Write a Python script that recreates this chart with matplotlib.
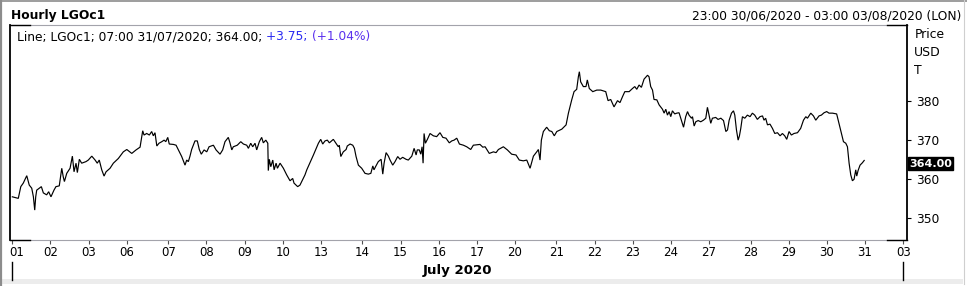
import numpy as np
import matplotlib
matplotlib.use('Agg')
import matplotlib.pyplot as plt
import matplotlib.transforms as mtransforms
from matplotlib.lines import Line2D
from matplotlib.patches import Rectangle

plt.rcParams['font.family'] = ['DejaVu Sans']

# ---------------- data ----------------
title = 'Hourly LGOc1'
range_text = '23:00 30/06/2020 - 03:00 03/08/2020 (LON)'
legend_black = 'Line; LGOc1; 07:00 31/07/2020; 364.00; '
legend_change = '+3.75; '
legend_pct = '(+1.04%)'
unit_labels = ['Price', 'USD', 'T']
month_label = 'July 2020'
last_close = 364.00
y_ticks = [350, 360, 370, 380]

day_labels = ['01', '02', '03', '06', '07', '08', '09', '10', '13', '14', '15', '16',
              '17', '20', '21', '22', '23', '24', '27', '28', '29', '30', '31', '03']
# trading hours in each session (Monday sessions are longer)
session_hours = [23, 23, 23, 25, 23, 23, 23, 23, 25, 23, 23, 23,
                 23, 25, 23, 23, 23, 23, 25, 23, 23, 23, 23]

# trading hours elapsed since 23:00 30/06/2020
hours = [
    0.0, 3.6, 5.1, 6.6, 8.7, 10.2, 11.7, 12.7, 13.5, 14.1, 14.7, 16.3, 17.5, 18.7, 20.7, 21.9,
    23.3, 25.1, 26.3, 28.3, 29.8, 30.7, 31.4, 32.8, 34.8, 36.2, 37.2, 38.4, 39.2, 40.4, 41.8,
    44.4, 45.8, 47.9, 49.9, 51.2, 52.4, 53.9, 55.3, 56.5, 58.9, 60.9, 63.9, 66.9, 69.0, 72.0,
    74.6, 77.0, 78.0, 78.6, 79.4, 81.0, 82.6, 84.0, 85.0, 86.0, 87.1, 88.4, 90.1, 91.5, 92.5,
    93.7, 94.6, 97.1, 98.7, 100.1, 102.1, 104.1, 105.1, 106.1, 107.1, 108.1, 110.1, 111.5,
    112.7, 113.9, 115.6, 117.2, 118.6, 121.2, 122.8, 125.2, 126.8, 128.2, 130.2, 131.2, 132.3,
    133.2, 135.6, 137.7, 139.3, 141.3, 142.3, 143.7, 144.9, 146.3, 147.3, 148.9, 150.3, 151.3,
    152.8, 154.0, 154.3, 154.9, 155.8, 157.0, 157.8, 159.0, 159.8, 161.4, 163.4, 165.4, 167.4,
    169.0, 169.8, 172.0, 173.4, 176.4,
    177.5, 181.5, 184.5, 185.9, 187.1, 188.5, 189.9, 191.1, 193.5, 195.1, 196.5, 197.1, 198.0,
    199.5, 201.2, 201.9, 203.6, 205.2, 206.2, 207.2, 208.6, 210.6, 212.6, 214.6, 216.1, 217.3,
    218.0, 219.2, 220.6, 222.3, 223.3, 224.1, 225.3, 226.7, 227.7, 229.3, 230.7, 232.3, 233.7,
    235.3, 237.3, 238.7, 240.8, 242.2, 243.4, 244.1, 245.3, 246.2, 247.0, 247.6, 248.2, 249.0,
    250.2, 251.8, 253.8, 255.8, 257.8, 259.5, 261.4, 263.4, 264.9, 266.3, 267.9, 269.5, 271.9,
    273.9, 276.3, 277.9, 281.9, 283.6, 285.0, 287.5, 290.0, 291.6, 293.0, 296.0, 298.4, 301.0,
    303.6, 305.6, 308.0, 310.1, 312.1, 314.1, 316.1, 317.1, 318.1, 318.9, 320.1, 322.1, 323.7,
    325.2, 326.7, 328.2, 331.2, 333.8, 335.2, 337.2, 338.6, 340.2, 341.2, 341.8, 342.6, 344.2,
    345.8, 346.6, 347.8, 349.9, 352.3,
    354.7, 357.7, 359.1, 360.7, 362.7, 364.8, 366.3, 367.8, 369.2, 371.8, 373.8, 375.2, 376.4,
    377.8, 379.2, 380.8, 382.9, 383.8, 384.8, 385.9, 386.8, 388.5, 389.9, 391.9, 392.9, 393.9,
    394.9, 395.9, 396.9, 397.9, 399.3, 400.5, 401.9, 402.9, 404.6, 405.9, 407.0, 407.9, 409.4,
    410.0, 411.0, 412.0, 413.4, 415.0, 416.6, 418.0, 419.0, 420.0, 421.0, 422.0, 424.0, 425.4,
    427.1, 428.7, 430.1, 431.1, 432.1, 433.5, 434.7, 435.5, 436.5, 437.5, 438.3, 439.1, 440.1,
    441.5, 443.1, 444.7, 446.1, 447.5, 449.1, 450.7, 452.2, 453.1, 454.1, 455.2, 456.7, 458.2,
    459.6, 461.2, 462.8, 464.2, 465.6, 466.8, 468.2, 469.6, 471.2, 473.3, 475.2, 476.9, 478.3,
    479.3, 481.3, 482.9, 484.3, 486.3, 487.7, 489.3, 490.9, 492.3, 494.4, 496.9, 498.3, 499.8,
    501.0, 502.4, 503.4, 504.4, 505.4, 506.4, 507.4, 508.4, 509.0, 509.8, 511.0, 512.4, 513.5,
]
prices = [
    355.5, 355.1, 358.1, 359.0, 360.9, 358.5, 357.7, 355.5, 352.1, 355.5, 357.2, 357.7, 358.1,
    356.5, 356.0, 356.8, 355.5, 357.2, 358.1, 358.3, 362.8, 360.6, 359.4, 361.5, 362.8, 365.9,
    361.9, 364.1, 361.7, 365.1, 364.1, 364.5, 364.9, 365.9, 364.9, 364.1, 364.9, 362.4, 360.8,
    361.9, 362.8, 364.1, 365.3, 367.0, 367.6, 366.6, 367.5, 368.2, 370.9, 372.4, 371.3, 371.7,
    371.3, 372.2, 371.1, 371.9, 368.5, 369.2, 369.6, 370.0, 369.6, 370.7, 369.0, 368.9, 368.7,
    367.5, 365.8, 363.6, 364.9, 364.5, 365.9, 367.6, 369.8, 369.8, 367.6, 366.4, 367.5, 367.0,
    368.3, 368.7, 367.5, 366.4, 367.5, 369.6, 370.7, 369.3, 367.5, 368.3, 368.7, 369.6, 369.0,
    368.7, 367.9, 369.2, 368.3, 369.2, 367.5, 369.6, 370.7, 369.3, 370.0, 369.2, 362.2, 365.1,
    363.2, 364.9, 362.4, 364.1, 362.8, 364.1, 362.8, 361.1, 359.6, 360.2, 359.0, 358.1, 358.5,
    361.1,
    362.4, 366.2, 369.2, 370.2, 369.0, 369.8, 370.0, 369.3, 370.2, 369.2, 368.3, 368.7, 365.8,
    367.0, 367.6, 368.5, 369.0, 368.7, 367.9, 365.8, 363.6, 362.8, 361.5, 361.3, 361.5, 363.4,
    362.4, 363.4, 364.5, 365.1, 361.3, 364.1, 366.8, 365.9, 364.9, 363.6, 364.5, 365.8, 365.1,
    365.6, 365.1, 364.9, 365.9, 367.9, 366.2, 367.5, 367.5, 366.4, 368.3, 364.1, 371.7, 369.2,
    370.2, 371.7, 371.1, 370.9, 371.9, 370.7, 370.5, 369.3, 369.8, 370.0, 370.5, 369.0, 368.7,
    368.3, 367.6, 368.7, 368.9, 368.2, 368.3, 366.6, 367.0, 366.8, 367.6, 368.3, 367.5, 366.4,
    366.2, 364.9, 364.7, 364.9, 362.8, 365.9, 367.0, 367.6, 364.9, 370.0, 372.2, 373.3, 372.4,
    372.2, 371.1, 372.2, 372.8, 373.9, 376.9, 380.3, 382.4, 383.0, 386.2, 387.5, 384.9, 383.7,
    383.7, 385.4, 383.2, 382.4, 382.8,
    382.8, 382.4, 380.1, 380.4, 378.5, 380.1, 379.6, 381.1, 382.4, 382.4, 383.2, 383.7, 383.0,
    384.1, 383.5, 385.6, 386.6, 386.2, 383.7, 382.8, 380.4, 380.3, 379.0, 377.9, 376.9, 377.9,
    376.4, 377.3, 376.0, 377.5, 376.7, 376.9, 377.0, 375.6, 373.3, 376.0, 377.3, 376.4, 375.6,
    376.0, 373.6, 374.7, 375.0, 374.7, 375.1, 375.6, 378.4, 376.4, 374.3, 375.6, 375.8, 375.3,
    375.6, 375.0, 372.2, 372.6, 375.1, 376.9, 377.5, 376.4, 372.6, 370.0, 371.1, 373.0, 376.0,
    375.6, 376.4, 376.0, 376.9, 376.4, 375.3, 376.0, 376.2, 375.1, 375.6, 373.9, 374.1, 373.0,
    371.7, 371.9, 371.1, 371.7, 371.1, 370.2, 372.2, 371.3, 371.7, 371.9, 373.0, 375.1, 376.0,
    375.6, 376.9, 376.2, 375.1, 376.2, 376.4, 377.0, 377.3, 376.9, 376.9, 376.7, 374.3, 371.7,
    369.6, 369.2, 368.3, 364.1, 361.1, 359.6, 360.0, 362.4, 360.8, 362.2, 363.6, 364.2, 364.8,
]

# ---------------- layout ----------------
W, H = 967, 286
def fx(x):
    return x / W
def fy(y):
    return 1 - y / H

fig = plt.figure(figsize=(W / 100, H / 100), dpi=100)
fig.patch.set_facecolor('white')

# outer frame
fig.add_artist(Rectangle((fx(2), fy(284)), fx(961), 5 / H, transform=fig.transFigure,
                         facecolor='#ececec', edgecolor='none'))
fig.add_artist(Line2D([fx(1), fx(1)], [0, 1], transform=fig.transFigure, color='#8c8c8c', lw=1.6))
fig.add_artist(Line2D([0, 1], [fy(0.6), fy(0.6)], transform=fig.transFigure, color='#8c8c8c', lw=1.2))
fig.add_artist(Line2D([fx(963.5), fx(963.5)], [fy(284), 1], transform=fig.transFigure,
                      color='#cfcfcf', lw=0.8))

ax = fig.add_axes([fx(10), fy(240), 897 / W, 215 / H])
ax.set_facecolor('white')

ax.plot(hours, prices, color='black', lw=0.85, solid_joinstyle='miter')

tick_pos = np.concatenate([[0], np.cumsum(session_hours)])
ax.set_xlim(-1.4, 539.3)
ax.set_ylim(344.45, 399.45)

# spines
for s in ['left', 'right']:
    ax.spines[s].set_color('black')
    ax.spines[s].set_linewidth(1.3)
for s in ['top', 'bottom']:
    ax.spines[s].set_color('#a3a3ab')
    ax.spines[s].set_linewidth(0.8)
stub = 20 / 897
for yy in (0, 1):
    ax.plot([0, stub], [yy, yy], transform=ax.transAxes, color='black', lw=1.0,
            clip_on=False, zorder=6)
    ax.plot([1 - stub, 1], [yy, yy], transform=ax.transAxes, color='black', lw=1.0,
            clip_on=False, zorder=6)

# x ticks
ax.set_xticks(tick_pos)
ax.set_xticklabels(day_labels)
ax.tick_params(axis='x', direction='out', length=2.9, width=0.8, color='#505050',
               pad=1.6, labelsize=8.5, labelcolor='black')
first = ax.get_xticklabels()[0]
first.set_horizontalalignment('left')
first.set_transform(first.get_transform() +
                    mtransforms.ScaledTranslation(-3 / 100, 0, fig.dpi_scale_trans))

# y ticks on right
ax.yaxis.tick_right()
ax.set_yticks(y_ticks)
ax.set_yticklabels([str(v) for v in y_ticks])
ax.tick_params(axis='y', direction='out', length=2.9, width=0.8, color='black',
               pad=3.4, labelsize=8.8, labelcolor='black')
ax.tick_params(axis='y', left=False)

# month label and separators
for p in (tick_pos[0], tick_pos[-1]):
    xpix = ax.transData.transform((p, 0))[0]
    fig.add_artist(Line2D([xpix / W, xpix / W], [fy(262), fy(279.5)], transform=fig.transFigure,
                          color='black', lw=1.0))
mid = (tick_pos[0] + tick_pos[-1]) / 2
ax.text(mid, fy(274.3), month_label,
        transform=mtransforms.blended_transform_factory(ax.transData, fig.transFigure),
        ha='center', va='baseline', fontsize=9.6, fontweight='bold')

# header
fig.text(fx(11), fy(19.3), title, ha='left', va='baseline', fontsize=8.8, fontweight='bold')
fig.text(fx(961.7), fy(19.3), range_text, ha='right', va='baseline', fontsize=8.8)

# legend line
t1 = fig.text(fx(17.3), fy(40), legend_black, ha='left', va='baseline', fontsize=8.8, color='black')
a2 = ax.annotate(legend_change, xy=(1, 0), xycoords=t1, ha='left', va='bottom',
                 fontsize=8.8, color='#2b2bf2', annotation_clip=False)
a3 = ax.annotate(legend_pct, xy=(1, 0), xycoords=a2, ha='left', va='bottom',
                 fontsize=8.8, color='#5a30ee', annotation_clip=False)

# unit labels on right
for lbl, yb in zip(unit_labels, [38.3, 56.0, 74.0]):
    fig.text(fx(914.3), fy(yb), lbl, ha='left', va='baseline', fontsize=8.9)

# last value tag
ax.annotate(f'{last_close:.2f}', xy=(1, last_close), xycoords=('axes fraction', 'data'),
            xytext=(2.2, 0), textcoords='offset pixels', ha='left', va='center',
            fontsize=8.0, fontweight='bold', color='white', annotation_clip=False,
            bbox=dict(boxstyle='square,pad=0.12', facecolor='black', edgecolor='black'))

fig.savefig('out.png', dpi=100)
